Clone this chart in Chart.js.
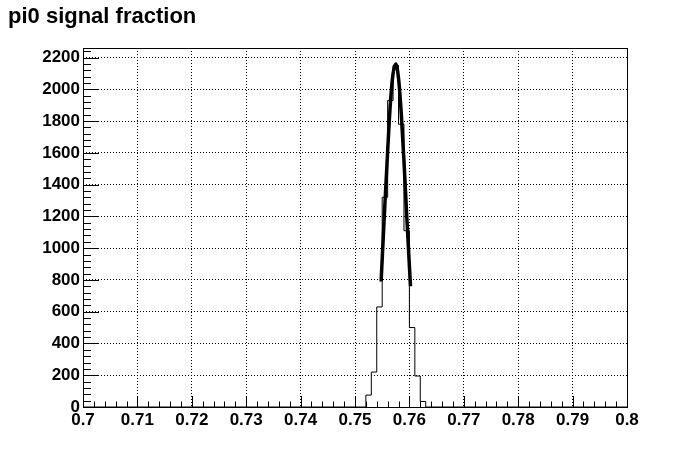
<!DOCTYPE html>
<html>
<head>
<meta charset="utf-8">
<script src="https://cdn.jsdelivr.net/npm/chart.js@4/dist/chart.umd.min.js"></script>
<style>
html,body{margin:0;padding:0;background:#fff;}
canvas{display:block;}
</style>
</head>
<body>
<canvas id="c" width="696" height="474"></canvas>
<script>
// ---- data ----
const titleText = "pi0 signal fraction";
const xMin = 0.7, xMax = 0.8, binWidth = 0.001;
// left edges of non-empty bins and their counts
const binStarts = [0.751, 0.752, 0.753, 0.754, 0.755, 0.756, 0.757, 0.758, 0.759, 0.760, 0.761, 0.762, 0.763];
const binCounts = [0, 75, 220, 630, 1320, 1930, 2150, 1780, 1110, 500, 195, 35, 0];
// fitted curve, points
const fitX = [0.7548, 0.7555, 0.7560, 0.7565, 0.7570, 0.7575, 0.7580, 0.7585, 0.7590, 0.7595, 0.7602];
const fitY = [790, 1280, 1610, 1910, 2100, 2160, 2070, 1850, 1550, 1210, 760];
const yMax = 2260;
const xTickStep = 0.01, yTickStep = 200;

// ---- build datasets ----
const histPts = [{x: xMin, y: 0}];
binStarts.forEach((s, i) => histPts.push({x: s, y: binCounts[i]}));
histPts.push({x: xMax, y: 0});
const fitPts = fitX.map((x, i) => ({x: x, y: fitY[i]}));

const FONT = "'Liberation Sans', Arial, Helvetica, sans-serif";

const rootFrame = {
  id: 'rootFrame',
  beforeDraw(chart) {
    const ctx = chart.ctx;
    ctx.save();
    ctx.fillStyle = '#fff';
    ctx.fillRect(0, 0, chart.width, chart.height);
    ctx.restore();
  },
  afterDraw(chart) {
    const ctx = chart.ctx, a = chart.chartArea;
    const xs = chart.scales.x, ys = chart.scales.y;
    ctx.save();
    ctx.strokeStyle = '#000';
    ctx.lineWidth = 1;
    ctx.beginPath();
    const nx = Math.round((xMax - xMin) / 0.002);
    for (let i = 0; i <= nx; i++) {
      const v = xMin + i * 0.002;
      const px = Math.round(xs.getPixelForValue(v)) + 0.5;
      const len = (i % 5 === 0) ? 11 : 5.5;
      ctx.moveTo(px, a.bottom);
      ctx.lineTo(px, a.bottom - len);
    }
    for (let v = 0; v <= yMax; v += 40) {
      const py = Math.round(ys.getPixelForValue(v)) + 0.5;
      const len = (v % 200 === 0) ? 16 : 8;
      ctx.moveTo(a.left, py);
      ctx.lineTo(a.left + len, py);
    }
    ctx.stroke();
    ctx.strokeRect(Math.round(a.left) + 0.5, Math.round(a.top) + 0.5,
                   Math.round(a.right - a.left), Math.round(a.bottom - a.top));
    ctx.fillStyle = '#000';
    ctx.font = 'bold 22px ' + FONT;
    ctx.textBaseline = 'alphabetic';
    ctx.textAlign = 'left';
    ctx.fillText(titleText, 8, 23);
    ctx.restore();
  }
};

new Chart(document.getElementById('c'), {
  type: 'line',
  data: {
    datasets: [
      {
        label: 'fit',
        data: fitPts,
        borderColor: '#000',
        borderWidth: 3.5,
        pointRadius: 0,
        fill: false,
        tension: 0.4,
        cubicInterpolationMode: 'monotone'
      },
      {
        label: 'hist',
        data: histPts,
        borderColor: '#000',
        borderWidth: 1,
        pointRadius: 0,
        fill: false,
        stepped: true
      }
    ]
  },
  options: {
    responsive: false,
    animation: false,
    devicePixelRatio: 1,
    layout: {padding: {left: 0, top: 48, right: 69, bottom: 0}},
    plugins: {legend: {display: false}, tooltip: {enabled: false}, title: {display: false}},
    scales: {
      x: {
        type: 'linear',
        min: xMin, max: xMax,
        afterFit(s) { s.height = 67; },
        afterBuildTicks(s) {
          const t = [];
          for (let i = 0; i <= 10; i++) t.push({value: +(xMin + i * xTickStep).toFixed(2)});
          s.ticks = t;
        },
        ticks: {
          color: '#000',
          font: {family: FONT, weight: 'bold', size: 17},
          padding: 3,
          maxRotation: 0,
          autoSkip: false,
          callback: v => String(+(+v).toFixed(2))
        },
        grid: {color: '#000', lineWidth: 1, drawTicks: false},
        border: {display: false, dash: [1, 2]}
      },
      y: {
        type: 'linear',
        min: 0, max: yMax,
        afterFit(s) { s.width = 83; },
        afterBuildTicks(s) {
          const t = [];
          for (let v = 0; v <= yMax; v += yTickStep) t.push({value: v});
          s.ticks = t;
        },
        ticks: {
          color: '#000',
          font: {family: FONT, weight: 'bold', size: 17},
          padding: 3,
          autoSkip: false,
          callback: v => String(v)
        },
        grid: {color: '#000', lineWidth: 1, drawTicks: false},
        border: {display: false, dash: [1, 2]}
      }
    }
  },
  plugins: [rootFrame]
});
</script>
</body>
</html>
